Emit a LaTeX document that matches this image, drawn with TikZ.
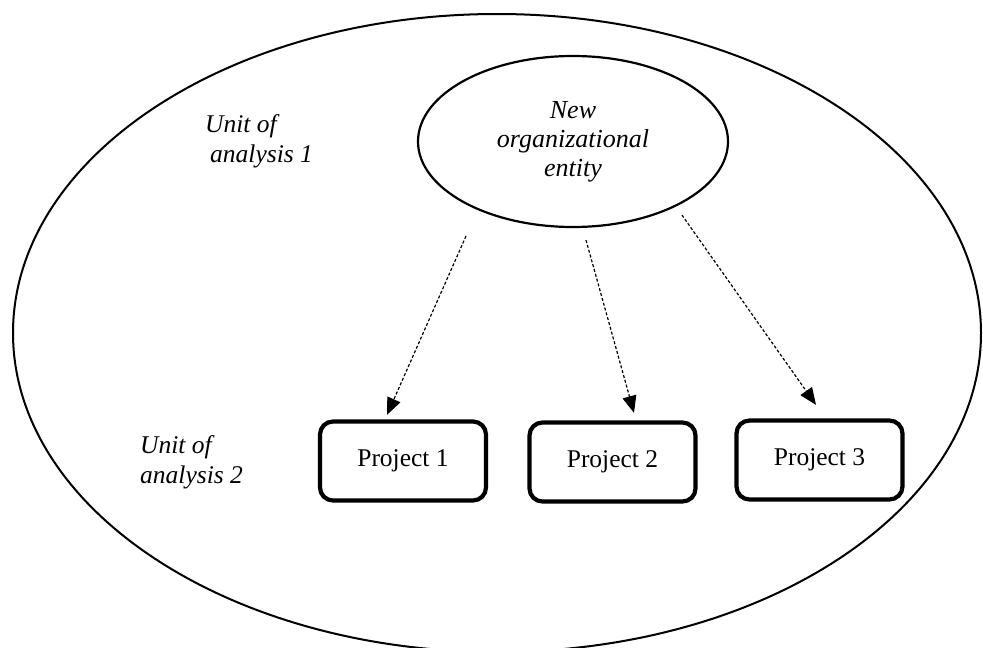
\documentclass[tikz,border=0pt]{standalone}
\usepackage{fontspec}
\setmainfont{Liberation Serif}
\usetikzlibrary{arrows.meta,calc,shapes.geometric}
\begin{document}
\begin{tikzpicture}[x=1pt,y=-1pt,
  lbl/.style={font=\fontsize{25.5}{30}\selectfont\itshape, align=left, inner sep=0pt},
  entity/.style={draw, ellipse, line width=2.2pt, inner sep=0pt,
    minimum width=310pt, minimum height=171pt, align=center,
    font=\fontsize{26}{29}\selectfont\itshape},
  frame/.style={draw, ellipse, line width=2pt, inner sep=0pt,
    minimum width=968pt, minimum height=638pt},
  pbox/.style={draw, rounded corners=13pt, line width=4.2pt,
    minimum width=166pt, minimum height=79pt, inner sep=0pt,
    font=\fontsize{25.5}{30}\selectfont},
  darrow/.style={dash pattern=on 3pt off 2pt, line width=1.2pt,
    -{Triangle[length=17pt,width=14pt]}}]
\useasboundingbox (0,0) rectangle (983,648);

% outer boundary
\node[frame] (unit) at (497,333) {};

% labels for the two levels (anchored at the baseline of the last line)
\node[lbl, anchor=base west] (u1) at (205,162) {Unit of\\\hspace*{5pt}analysis 1};
\node[lbl, anchor=base west] (u2) at (140,483) {Unit of\\analysis 2};

% the organisational entity
\node[entity] (ne) at (573,141.5) {New\\organizational\\entity};

% projects
\node[pbox] (p1) at (403,461) {Project 1};
\node[pbox] (p2) at (612.5,462) {Project 2};
\node[pbox] (p3) at (819.5,460) {Project 3};

% connector ends
\coordinate (s1) at ($(ne.south)+(-107,8)$);
\coordinate (s2) at ($(ne.south)+(13,12)$);
\coordinate (s3) at ($(ne.south)+(109,-13)$);
\coordinate (e1) at ($(p1.north)+(-16,-4.5)$);
\coordinate (e2) at ($(p2.north)+(21.5,-7.5)$);
\coordinate (e3) at ($(p3.north)+(-3.5,-13.5)$);

\draw[darrow] (s1) -- (e1);
\draw[darrow] (s2) -- (e2);
\draw[darrow] (s3) -- (e3);
\end{tikzpicture}
\end{document}
